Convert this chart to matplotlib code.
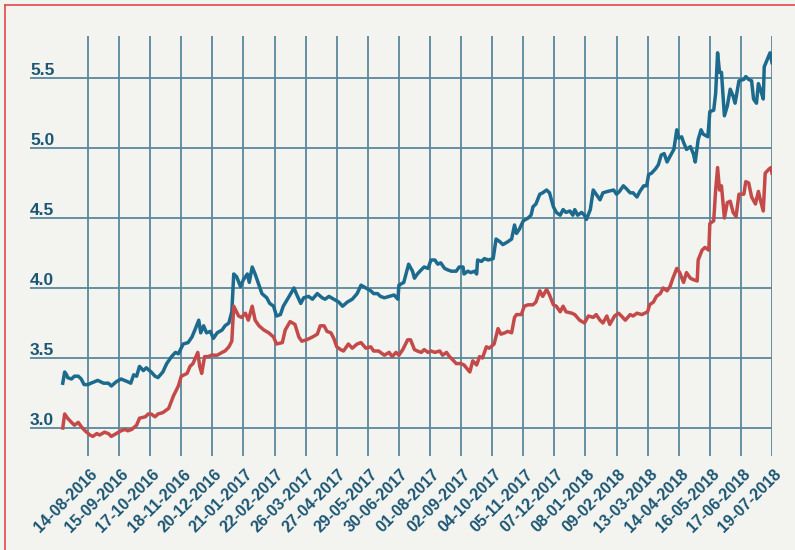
import datetime as dt
import matplotlib
matplotlib.use("Agg")
import matplotlib.pyplot as plt
import matplotlib.dates as mdates
from matplotlib.lines import Line2D
from matplotlib.transforms import blended_transform_factory, offset_copy, ScaledTranslation

plt.rcParams['font.family'] = ['Liberation Sans', 'DejaVu Sans']

start = dt.date(2016, 7, 19)

# day offsets from start, and values
blue_days = [0, 2, 4, 5, 9, 12, 16, 19, 22, 26, 29, 36, 42, 47, 50, 55, 60, 67, 70, 73,
             76, 79, 83, 86, 91, 95, 98, 103, 107, 112, 116, 119, 124, 129, 133, 136, 140, 142, 145, 148,
             152, 155, 159, 164, 167, 171, 174, 176, 179, 183, 186, 190, 192, 195, 198, 202, 205, 210, 213, 217,
             220, 224, 227, 233, 238, 241, 245, 248, 253, 257, 262, 267, 270, 274, 279, 284, 288, 293, 298, 303,
             307, 312, 317, 320, 324, 327, 331, 336, 341, 345, 346, 351, 356, 360, 362, 365, 369, 372, 376, 379,
             383, 386, 389, 393, 396, 400, 405, 408, 412, 413, 417, 420, 424, 426, 427, 431, 434, 438, 443, 446,
             450, 453, 458, 462, 465, 467, 470, 474, 479, 482, 484, 487, 491, 494, 498, 501, 503, 505, 508, 512,
             515, 518, 522, 525, 527, 530, 534, 537, 539, 543, 546, 549, 553, 556, 561, 567, 570, 573, 577, 580,
             584, 587, 591, 594, 598, 601, 603, 606, 610, 613, 616, 619, 622, 625, 629, 632, 634, 637, 639, 642,
             646, 649, 651, 654, 657, 659, 664, 666, 670, 672, 674, 676, 678, 681, 684, 687, 690, 692, 696, 701,
             703, 706, 709, 711, 714, 716, 718, 721, 722, 725, 728, 730]
blue_vals = [3.32, 3.40, 3.38, 3.36, 3.35, 3.37, 3.37, 3.35, 3.31, 3.31, 3.32, 3.34, 3.32, 3.32, 3.30, 3.33, 3.35, 3.33, 3.32, 3.38,
             3.37, 3.44, 3.41, 3.43, 3.40, 3.37, 3.36, 3.40, 3.46, 3.51, 3.54, 3.53, 3.60, 3.61, 3.65, 3.70, 3.77, 3.68, 3.73, 3.68,
             3.69, 3.64, 3.68, 3.70, 3.73, 3.75, 3.83, 4.10, 4.08, 4.01, 4.06, 4.10, 4.04, 4.15, 4.10, 4.02, 3.96, 3.93, 3.89, 3.87,
             3.80, 3.81, 3.87, 3.94, 4.00, 3.95, 3.89, 3.93, 3.94, 3.92, 3.96, 3.93, 3.92, 3.94, 3.92, 3.90, 3.87, 3.90, 3.92, 3.96,
             4.02, 4.00, 3.98, 3.96, 3.96, 3.94, 3.93, 3.94, 3.95, 3.92, 4.02, 4.04, 4.17, 4.12, 4.07, 4.10, 4.13, 4.15, 4.14, 4.20,
             4.20, 4.17, 4.18, 4.14, 4.13, 4.12, 4.12, 4.15, 4.15, 4.10, 4.12, 4.11, 4.12, 4.10, 4.20, 4.19, 4.21, 4.20, 4.21, 4.35,
             4.33, 4.31, 4.33, 4.35, 4.45, 4.39, 4.42, 4.48, 4.50, 4.52, 4.58, 4.60, 4.67, 4.68, 4.70, 4.68, 4.63, 4.58, 4.54, 4.52,
             4.56, 4.54, 4.55, 4.52, 4.56, 4.52, 4.54, 4.52, 4.49, 4.56, 4.70, 4.67, 4.63, 4.68, 4.69, 4.70, 4.67, 4.69, 4.73, 4.71,
             4.68, 4.68, 4.65, 4.69, 4.73, 4.73, 4.81, 4.82, 4.85, 4.88, 4.95, 4.96, 4.90, 4.94, 4.99, 5.13, 5.07, 5.08, 5.04, 4.99,
             5.01, 4.96, 4.90, 5.06, 5.13, 5.10, 5.08, 5.26, 5.27, 5.39, 5.68, 5.54, 5.54, 5.23, 5.30, 5.42, 5.37, 5.32, 5.48, 5.49,
             5.51, 5.49, 5.48, 5.35, 5.32, 5.46, 5.42, 5.35, 5.58, 5.63, 5.68, 5.61]

red_days = [0, 2, 5, 9, 12, 16, 19, 23, 28, 31, 35, 38, 43, 47, 50, 55, 60, 64, 67, 71,
            76, 79, 85, 88, 91, 95, 98, 103, 109, 114, 119, 122, 128, 131, 134, 139, 141, 143, 146, 150,
            153, 159, 164, 167, 171, 174, 176, 181, 184, 188, 191, 195, 198, 202, 207, 212, 217, 220, 226, 229,
            234, 239, 243, 246, 251, 257, 262, 265, 269, 272, 276, 279, 282, 286, 289, 294, 298, 303, 307, 312,
            317, 320, 325, 331, 336, 339, 343, 346, 350, 355, 358, 362, 365, 369, 372, 376, 379, 383, 388, 391,
            395, 398, 401, 405, 410, 413, 419, 422, 426, 429, 432, 436, 439, 444, 448, 451, 455, 458, 462, 465,
            467, 472, 475, 479, 484, 487, 491, 494, 498, 501, 505, 508, 512, 515, 518, 524, 527, 532, 537, 541,
            546, 549, 553, 556, 560, 563, 568, 572, 575, 579, 584, 587, 591, 596, 599, 602, 604, 608, 611, 615,
            618, 622, 625, 628, 632, 635, 639, 642, 646, 649, 653, 654, 658, 661, 665, 666, 670, 672, 674, 676,
            678, 681, 684, 687, 690, 693, 696, 701, 703, 706, 709, 713, 716, 718, 721, 723, 727, 729, 730]
red_vals = [3.00, 3.10, 3.07, 3.04, 3.02, 3.04, 3.01, 2.98, 2.95, 2.94, 2.96, 2.95, 2.97, 2.96, 2.94, 2.96, 2.98, 2.99, 2.98, 2.99,
            3.02, 3.07, 3.08, 3.10, 3.10, 3.08, 3.10, 3.11, 3.14, 3.23, 3.30, 3.37, 3.39, 3.44, 3.46, 3.54, 3.44, 3.39, 3.51, 3.51,
            3.52, 3.52, 3.54, 3.55, 3.58, 3.62, 3.87, 3.80, 3.79, 3.82, 3.77, 3.87, 3.77, 3.73, 3.70, 3.68, 3.65, 3.60, 3.61, 3.70,
            3.76, 3.74, 3.65, 3.62, 3.63, 3.65, 3.67, 3.73, 3.73, 3.69, 3.68, 3.64, 3.58, 3.56, 3.55, 3.60, 3.57, 3.60, 3.61, 3.57,
            3.58, 3.55, 3.55, 3.52, 3.54, 3.51, 3.54, 3.52, 3.56, 3.63, 3.63, 3.56, 3.55, 3.54, 3.56, 3.54, 3.55, 3.54, 3.55, 3.52,
            3.54, 3.51, 3.49, 3.46, 3.46, 3.45, 3.40, 3.48, 3.45, 3.51, 3.50, 3.58, 3.57, 3.60, 3.71, 3.67, 3.68, 3.69, 3.68, 3.79,
            3.81, 3.81, 3.87, 3.88, 3.88, 3.90, 3.98, 3.94, 3.99, 3.95, 3.88, 3.87, 3.83, 3.87, 3.83, 3.82, 3.81, 3.77, 3.75, 3.80,
            3.79, 3.81, 3.77, 3.75, 3.80, 3.74, 3.80, 3.82, 3.80, 3.77, 3.81, 3.80, 3.82, 3.81, 3.82, 3.83, 3.88, 3.90, 3.94, 3.96,
            4.00, 3.98, 4.01, 4.07, 4.14, 4.11, 4.04, 4.11, 4.07, 4.06, 4.05, 4.20, 4.27, 4.29, 4.27, 4.46, 4.48, 4.70, 4.86, 4.70,
            4.73, 4.50, 4.61, 4.62, 4.54, 4.51, 4.67, 4.67, 4.76, 4.75, 4.65, 4.60, 4.69, 4.63, 4.55, 4.82, 4.85, 4.86, 4.82]

tick_labels = ["14-08-2016", "15-09-2016", "17-10-2016", "18-11-2016", "20-12-2016",
               "21-01-2017", "22-02-2017", "26-03-2017", "27-04-2017", "29-05-2017",
               "30-06-2017", "01-08-2017", "02-09-2017", "04-10-2017", "05-11-2017",
               "07-12-2017", "08-01-2018", "09-02-2018", "13-03-2018", "14-04-2018",
               "16-05-2018", "17-06-2018", "19-07-2018"]
y_ticks = [3.0, 3.5, 4.0, 4.5, 5.0, 5.5]

bg = "#f3f3ef"
grid_col = "#5a889c"
text_col = "#1b5674"
blue = "#1c6b8f"
red = "#c44a4a"

blue_dates = [start + dt.timedelta(days=d) for d in blue_days]
red_dates = [start + dt.timedelta(days=d) for d in red_days]
tick_dates = [dt.datetime.strptime(t, "%d-%m-%Y").date() for t in tick_labels]

fig = plt.figure(figsize=(7.95, 5.5), dpi=100)
fig.patch.set_facecolor(bg)
ax = fig.add_axes([30 / 795, 94 / 550, 742 / 795, 420 / 550])
ax.set_facecolor(bg)

ax.plot(blue_dates, blue_vals, color=blue, lw=2.5, zorder=3)
ax.plot(red_dates, red_vals, color=red, lw=2.5, zorder=3)

x0 = mdates.date2num(start)
ax.set_xlim(x0 - 33.7, x0 + 730)
ax.set_ylim(2.8, 5.8)

ax.set_xticks(tick_dates)
ax.set_xticklabels(tick_labels, rotation=45, ha="right", va="center",
                   rotation_mode="anchor", fontsize=11.5, fontweight="bold", color=text_col)
ax.set_yticks(y_ticks)
ax.tick_params(axis="both", length=0)
ax.tick_params(axis="x", pad=10)
ax.tick_params(axis="y", labelleft=False)
ax.grid(True, color=grid_col, lw=1.3, zorder=1)
for s in ax.spines.values():
    s.set_visible(False)

shift = ScaledTranslation(7 / 100, -2 / 100, fig.dpi_scale_trans)
for lab in ax.get_xticklabels():
    lab.set_transform(lab.get_transform() + shift)

trans = offset_copy(blended_transform_factory(ax.transAxes, ax.transData), fig=fig, x=0, y=2.5, units="points")
for v in y_ticks:
    ax.text(0, v, f"{v:.1f}", transform=trans, ha="left", va="baseline",
            fontsize=12.5, fontweight="bold", color=text_col)

# red frame lines at left and top
fig.add_artist(Line2D([5 / 795, 5 / 795], [0, 545 / 550], color="#e5484a", lw=1.2, transform=fig.transFigure))
fig.add_artist(Line2D([5 / 795, 1], [545 / 550, 545 / 550], color="#e5484a", lw=1.2, transform=fig.transFigure))

fig.savefig("out.png", dpi=100, facecolor=bg)
